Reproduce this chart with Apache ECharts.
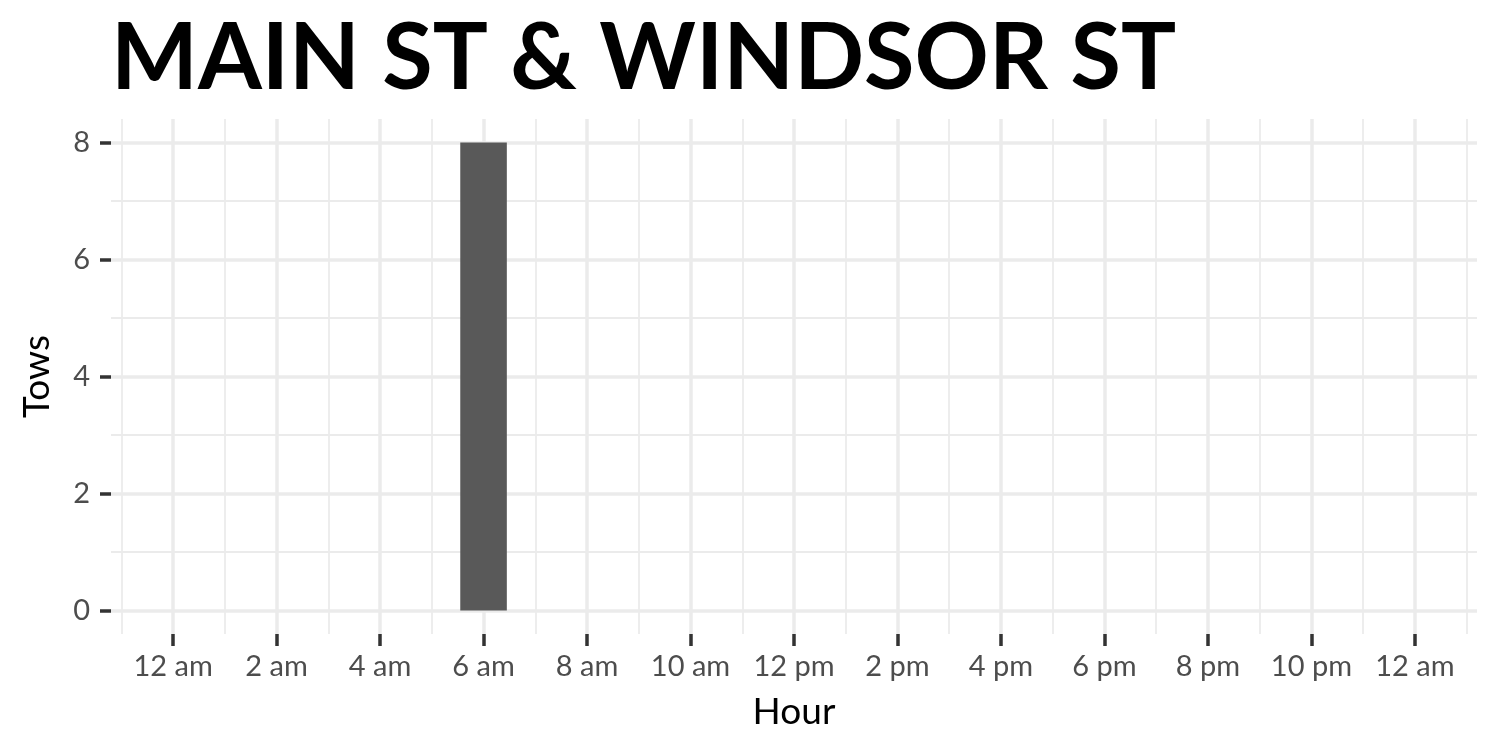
<!DOCTYPE html>
<html>
<head>
<meta charset="utf-8">
<script src="https://cdn.jsdelivr.net/npm/echarts@6/dist/echarts.min.js"></script>
<style>
  html, body { margin: 0; padding: 0; background: #ffffff; }
  #chart { width: 1500px; height: 750px; }
</style>
</head>
<body>
<div id="chart"></div>
<script>
// ---- data ----
const titleText = 'MAIN ST & WINDSOR ST';
const hours = [0,1,2,3,4,5,6,7,8,9,10,11,12,13,14,15,16,17,18,19,20,21,22,23];
const tows  = [0,0,0,0,0,0,8,0,0,0,0,0,0,0,0,0,0,0,0,0,0,0,0,0];
const hourTicks  = [0,2,4,6,8,10,12,14,16,18,20,22,24];
const hourLabels = ['12 am','2 am','4 am','6 am','8 am','10 am','12 pm','2 pm','4 pm','6 pm','8 pm','10 pm','12 am'];
const hourMinor  = [-1,1,3,5,7,9,11,13,15,17,19,21,23,25];
const towTicks   = [0,2,4,6,8];
const towMinor   = [1,3,5,7];
const xRange = [-1.2, 25.2];
const yRange = [-0.4, 8.4];

const FONT = 'Lato';
const GRID = '#EBEBEB';

const chart = echarts.init(document.getElementById('chart'), null, { renderer: 'canvas' });

const option = {
  animation: false,
  backgroundColor: '#ffffff',
  title: {
    text: titleText,
    left: 106,
    top: 8,
    textStyle: { fontFamily: FONT, fontWeight: 'bold', fontSize: 92, color: '#000000' }
  },
  grid: { left: 111, right: 23, top: 119, bottom: 116, outerBoundsMode: 'none', containLabel: false },
  xAxis: [
    {
      type: 'value', min: xRange[0], max: xRange[1], position: 'bottom',
      axisLine: { show: false, onZero: false },
      axisTick: { show: true, customValues: hourTicks, length: 12, lineStyle: { color: '#333333', width: 3.5 } },
      axisLabel: {
        show: true, customValues: hourTicks, margin: 18,
        fontFamily: FONT, fontSize: 29, color: '#4D4D4D',
        formatter: function (v) { const i = hourTicks.indexOf(v); return i >= 0 ? hourLabels[i] : ''; }
      },
      splitLine: { show: true, lineStyle: { color: GRID, width: 3.5 } },
      name: 'Hour', nameLocation: 'middle', nameGap: 60,
      nameTextStyle: { fontFamily: FONT, fontSize: 37, color: '#000000' }
    },
    {
      type: 'value', min: xRange[0], max: xRange[1], position: 'bottom',
      axisLine: { show: false, onZero: false },
      axisTick: { show: false, customValues: hourMinor },
      axisLabel: { show: false, customValues: hourMinor },
      splitLine: { show: true, lineStyle: { color: GRID, width: 1.8 } }
    }
  ],
  yAxis: [
    {
      type: 'value', min: yRange[0], max: yRange[1], position: 'left',
      axisLine: { show: false, onZero: false },
      axisTick: { show: true, customValues: towTicks, length: 11, lineStyle: { color: '#333333', width: 3.5 } },
      axisLabel: {
        show: true, customValues: towTicks, margin: 21,
        fontFamily: FONT, fontSize: 29, color: '#4D4D4D'
      },
      splitLine: { show: true, lineStyle: { color: GRID, width: 3.5 } },
      name: 'Tows', nameLocation: 'middle', nameGap: 55, nameRotate: 90,
      nameTextStyle: { fontFamily: FONT, fontSize: 37, color: '#000000' }
    },
    {
      type: 'value', min: yRange[0], max: yRange[1], position: 'left',
      axisLine: { show: false, onZero: false },
      axisTick: { show: false, customValues: towMinor },
      axisLabel: { show: false, customValues: towMinor },
      splitLine: { show: true, lineStyle: { color: GRID, width: 1.8 } }
    }
  ],
  series: [
    {
      type: 'bar',
      xAxisIndex: 0, yAxisIndex: 0,
      data: hours.map((h, i) => [h, tows[i]]),
      barWidth: '90%',
      itemStyle: { color: '#595959' },
      silent: true
    }
  ]
};

chart.setOption(option);
</script>
</body>
</html>
